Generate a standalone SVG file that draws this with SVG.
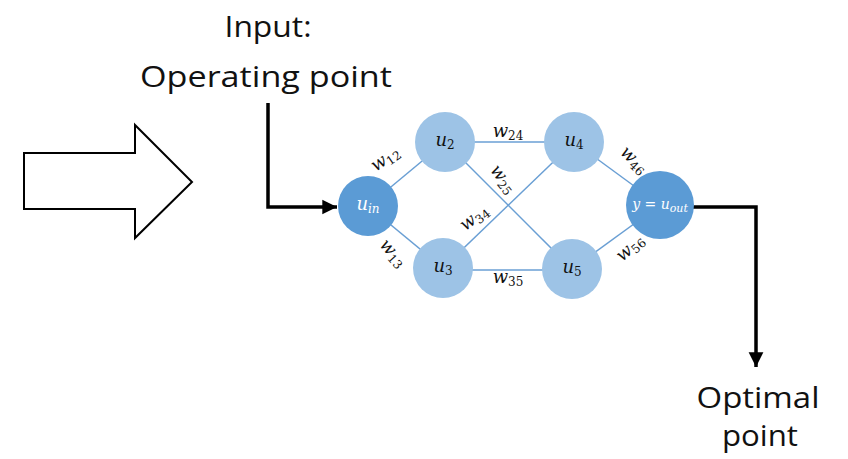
<svg xmlns="http://www.w3.org/2000/svg" width="848" height="459" viewBox="0 0 848 459">
<defs>
<style>
.big{font-family:"Open Sans","Liberation Sans",sans-serif;font-size:30px;fill:#111;text-anchor:middle}
.edge{stroke:#6A9FD4;stroke-width:1.5;fill:none}
.light{fill:#9DC3E6}
.dark{fill:#5B9BD5}
.nl{font-family:"DejaVu Serif","Liberation Serif",serif;font-style:italic;font-size:18px;text-anchor:middle;fill:#111}
.nw{fill:#fff}
.wl{font-family:"DejaVu Serif","Liberation Serif",serif;font-style:italic;font-size:18px;text-anchor:middle;fill:#111}
.sub{font-size:12px;font-style:normal}
.isub{font-size:12px}
.flow{stroke:#000;stroke-width:3.5;fill:none}
</style>
<marker id="ah" viewBox="0 0 10 10" refX="10" refY="5" markerWidth="4.2" markerHeight="4.4" orient="auto" markerUnits="strokeWidth">
<path d="M0,0 L10,5 L0,10 Z" fill="#000"/>
</marker>
</defs>
<rect width="848" height="459" fill="#fff"/>

<g id="big-arrow">
<path d="M24,153 H135 V125 L192,182 L135,238 V209 H24 Z" fill="#fff" stroke="#000" stroke-width="2"/>
</g>

<g id="input-label">
<text class="big" x="268" y="37" textLength="87" lengthAdjust="spacingAndGlyphs">Input:</text>
<text class="big" x="266" y="87" textLength="252" lengthAdjust="spacingAndGlyphs">Operating point</text>
</g>
<g id="output-label">
<text class="big" x="758" y="408" textLength="123" lengthAdjust="spacingAndGlyphs">Optimal</text>
<text class="big" x="760" y="446" textLength="76" lengthAdjust="spacingAndGlyphs">point</text>
</g>

<g id="connectors">
<line class="edge" x1="368" y1="206" x2="445" y2="142"/>
<line class="edge" x1="368" y1="206" x2="443" y2="268"/>
<line class="edge" x1="445" y1="142" x2="574" y2="142"/>
<line class="edge" x1="443" y1="270" x2="572" y2="270"/>
<line class="edge" x1="445" y1="142" x2="572" y2="269"/>
<line class="edge" x1="443" y1="268" x2="574" y2="142"/>
<line class="edge" x1="574" y1="142" x2="660" y2="205"/>
<line class="edge" x1="572" y1="269" x2="660" y2="205"/>
<path class="flow" d="M268,103 V207 H337" marker-end="url(#ah)"/>
<path class="flow" d="M693,207 H756 V367" marker-end="url(#ah)"/>
</g>

<g id="weights">
<text class="wl" transform="translate(386,160) rotate(-35)" y="4">w<tspan class="sub" dy="3">12</tspan></text>
<text class="wl" transform="translate(392,254) rotate(48)" y="4">w<tspan class="sub" dy="3">13</tspan></text>
<text class="wl" transform="translate(508,133)" y="4">w<tspan class="sub" dy="3">24</tspan></text>
<text class="wl" transform="translate(502,180) rotate(52)" y="4">w<tspan class="sub" dy="3">25</tspan></text>
<text class="wl" transform="translate(475,219) rotate(-38)" y="4">w<tspan class="sub" dy="3">34</tspan></text>
<text class="wl" transform="translate(508,279)" y="4">w<tspan class="sub" dy="3">35</tspan></text>
<text class="wl" transform="translate(633,161) rotate(44)" y="4">w<tspan class="sub" dy="3">46</tspan></text>
<text class="wl" transform="translate(631,249) rotate(-42)" y="4">w<tspan class="sub" dy="3">56</tspan></text>
</g>

<g id="node-uin">
<circle class="dark" cx="368" cy="206" r="30"/>
<text class="nl nw" x="368" y="210">u<tspan class="isub" dy="3">in</tspan></text>
</g>
<g id="node-u2">
<circle class="light" cx="445" cy="142" r="30"/>
<text class="nl" x="445" y="146">u<tspan class="sub" dy="3">2</tspan></text>
</g>
<g id="node-u3">
<circle class="light" cx="443" cy="268" r="30"/>
<text class="nl" x="443" y="272">u<tspan class="sub" dy="3">3</tspan></text>
</g>
<g id="node-u4">
<circle class="light" cx="574" cy="142" r="30"/>
<text class="nl" x="574" y="146">u<tspan class="sub" dy="3">4</tspan></text>
</g>
<g id="node-u5">
<circle class="light" cx="572" cy="269" r="30"/>
<text class="nl" x="572" y="273">u<tspan class="sub" dy="3">5</tspan></text>
</g>
<g id="node-out">
<circle class="dark" cx="660" cy="205" r="34"/>
<text class="nl nw" x="660" y="209" style="font-size:14px">y = u<tspan class="isub" style="font-size:11px" dy="3">out</tspan></text>
</g>
</svg>
